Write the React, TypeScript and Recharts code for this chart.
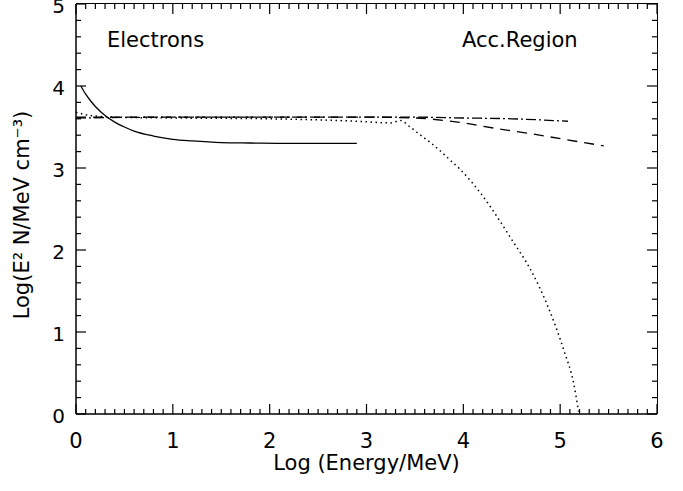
import { ComposedChart, Line, XAxis, YAxis } from 'recharts'

// log10(E/MeV) vs log10(E^2 N)
const solidX = [0.05, 0.1, 0.15, 0.2, 0.3, 0.4, 0.5, 0.6, 0.8, 1.0, 1.2, 1.5, 1.8, 2.2, 2.6, 2.9]
const solidY = [4.0, 3.9, 3.82, 3.75, 3.64, 3.56, 3.5, 3.45, 3.39, 3.35, 3.33, 3.31, 3.305, 3.3, 3.3, 3.3]

const dashDotX = [0, 1, 2, 3, 3.5, 4, 4.5, 5.08]
const dashDotY = [3.61, 3.62, 3.62, 3.62, 3.62, 3.61, 3.6, 3.57]

const dashedX = [0, 1, 2, 3, 3.5, 3.8, 4.0, 4.35, 4.69, 5.04, 5.45]
const dashedY = [3.62, 3.62, 3.62, 3.62, 3.61, 3.58, 3.55, 3.48, 3.42, 3.35, 3.27]

const dottedX = [0, 0.15, 0.4, 1, 2, 2.9, 3.25, 3.35, 3.45, 3.56, 3.66, 3.76, 3.87, 3.97, 4.18, 4.52, 4.69, 4.87, 5.04, 5.14, 5.19]
const dottedY = [3.68, 3.64, 3.62, 3.61, 3.6, 3.57, 3.55, 3.58, 3.5, 3.4, 3.31, 3.21, 3.09, 2.98, 2.69, 2.09, 1.77, 1.32, 0.77, 0.37, 0.03]

const xMajor = [0, 1, 2, 3, 4, 5, 6]
const yMajor = [0, 1, 2, 3, 4, 5]
const xTicks = Array.from({ length: 61 }, (_, i) => i / 10)
const yTicks = Array.from({ length: 26 }, (_, i) => (i * 2) / 10)

const toPoints = (xs: number[], ys: number[]) => xs.map((x, i) => ({ x, y: ys[i] }))

const FONT = '"DejaVu Sans", "Liberation Sans", sans-serif'

// plot box
const W = 683
const H = 491
const TOP = 4
const RIGHT = 26
const LEFT_W = 76
const BOTTOM_H = 77
const boxRight = W - RIGHT
const boxBottom = H - BOTTOM_H

const isMajor = (v: number, majors: number[]) => majors.some((m) => Math.abs(m - v) < 1e-6)

// IDL-style ticks: drawn inward on all four sides, labels only on majors
function renderXTick(p: any) {
  const x = Number(p.x)
  const major = isMajor(p.payload.value, xMajor)
  const len = major ? 10 : 5
  return (
    <g key={`xt-${p.index}`}>
      <line x1={x} y1={boxBottom} x2={x} y2={boxBottom - len} stroke="#000" strokeWidth={1.2} />
      <line x1={x} y1={TOP} x2={x} y2={TOP + len} stroke="#000" strokeWidth={1.2} />
      {major && (
        <text x={x} y={boxBottom + 34} textAnchor="middle" fontFamily={FONT} fontSize={21} fill="#000">
          {p.payload.value}
        </text>
      )}
    </g>
  )
}

function renderYTick(p: any) {
  const y = Number(p.y)
  const major = isMajor(p.payload.value, yMajor)
  const len = major ? 10 : 5
  return (
    <g key={`yt-${p.index}`}>
      <line x1={LEFT_W} y1={y} x2={LEFT_W + len} y2={y} stroke="#000" strokeWidth={1.2} />
      <line x1={boxRight} y1={y} x2={boxRight - len} y2={y} stroke="#000" strokeWidth={1.2} />
      {major && (
        <text x={LEFT_W - 11} y={y + 9} textAnchor="end" fontFamily={FONT} fontSize={20} fill="#000">
          {p.payload.value}
        </text>
      )}
    </g>
  )
}

const axisLine = { stroke: '#000', strokeWidth: 1.5 }

export default function App() {
  return (
    <div style={{ position: 'absolute', left: 0, top: 0, width: W, height: H, background: '#fff' }}>
      <ComposedChart width={W} height={H} margin={{ top: TOP, right: RIGHT, left: 0, bottom: 0 }}>
        <XAxis
          type="number"
          dataKey="x"
          domain={[0, 6]}
          ticks={xTicks}
          interval={0}
          tickSize={0}
          tickMargin={0}
          tickLine={false}
          axisLine={axisLine}
          tick={(p: any) => renderXTick(p)}
          height={BOTTOM_H}
        />
        <YAxis
          type="number"
          domain={[0, 5]}
          ticks={yTicks}
          interval={0}
          tickSize={0}
          tickMargin={0}
          tickLine={false}
          axisLine={axisLine}
          tick={(p: any) => renderYTick(p)}
          width={LEFT_W}
        />
        <Line data={toPoints(solidX, solidY)} dataKey="y" type="monotone" stroke="#000" strokeWidth={1.3} dot={false} isAnimationActive={false} />
        <Line data={toPoints(dashDotX, dashDotY)} dataKey="y" type="monotone" stroke="#000" strokeWidth={1.3} strokeDasharray="10 3 2 3" dot={false} isAnimationActive={false} />
        <Line data={toPoints(dashedX, dashedY)} dataKey="y" type="monotone" stroke="#000" strokeWidth={1.3} strokeDasharray="10 7" dot={false} isAnimationActive={false} />
        <Line data={toPoints(dottedX, dottedY)} dataKey="y" type="monotone" stroke="#000" strokeWidth={1.5} strokeDasharray="1.5 3.5" dot={false} isAnimationActive={false} />
      </ComposedChart>
      {/* top and right edges of the frame */}
      <div
        style={{
          position: 'absolute',
          left: LEFT_W,
          top: TOP - 0.75,
          width: boxRight - LEFT_W + 0.75,
          height: boxBottom - TOP + 0.75,
          borderTop: '1.5px solid #000',
          borderRight: '1.5px solid #000',
          boxSizing: 'border-box',
          pointerEvents: 'none',
        }}
      />
      <div style={{ position: 'absolute', left: 107, top: 28, fontFamily: FONT, fontSize: 21 }}>Electrons</div>
      <div style={{ position: 'absolute', left: 462, top: 28, fontFamily: FONT, fontSize: 21 }}>Acc.Region</div>
      <div style={{ position: 'absolute', left: 0, top: 451, width: 733, textAlign: 'center', fontFamily: FONT, fontSize: 21 }}>
        Log (Energy/MeV)
      </div>
      <div
        style={{
          position: 'absolute',
          left: 22,
          top: 215,
          transform: 'translate(-50%, -50%) rotate(-90deg)',
          whiteSpace: 'nowrap',
          fontFamily: FONT,
          fontSize: 21,
        }}
      >
        Log(E² N/MeV cm⁻³)
      </div>
    </div>
  )
}
